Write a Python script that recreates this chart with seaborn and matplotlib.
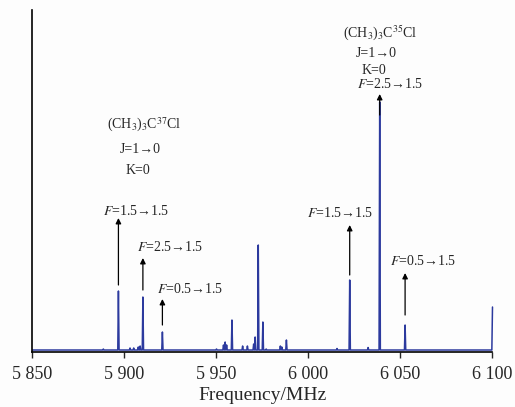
import numpy as np
import pandas as pd
import matplotlib
matplotlib.use("Agg")
import matplotlib.pyplot as plt
from matplotlib.ticker import FuncFormatter, MultipleLocator
import seaborn as sns

# peak positions (MHz) and intensities (arb. units)
peak_freq = [5888.5, 5896.7, 5903.0, 5905.0, 5907.5, 5908.5, 5910.0, 5920.6,
             5950.0, 5953.8, 5954.7, 5955.5, 5958.4, 5964.2, 5966.8, 5970.2,
             5971.0, 5972.7, 5975.2, 5977.0, 5984.7, 5985.5, 5988.0, 6015.5,
             6022.4, 6032.4, 6038.7, 6052.5, 6100.0]
peak_int = [1, 59, 2, 2, 3, 4, 53, 18,
            1, 5, 8, 5, 30, 4, 4, 6,
            13, 105, 28, 1, 4, 3, 10, 1.5,
            70, 2.5, 248, 25, 43]

# isotopologue headers
iso_labels = ["(CH$_3$)$_3$C$^{37}$Cl", "(CH$_3$)$_3$C$^{35}$Cl"]
j_label = "J=1\u21920"
k_label = "K=0"

# hyperfine assignments: peak frequency and label
hf_freq = [5896.7, 5910.0, 5920.6, 6022.4, 6038.7, 6052.5]
hf_labels = ["$F$=1.5\u21921.5", "$F$=2.5\u21921.5", "$F$=0.5\u21921.5",
             "$F$=1.5\u21921.5", "$F$=2.5\u21921.5", "$F$=0.5\u21921.5"]

xticks = [5850, 5900, 5950, 6000, 6050, 6100]

# build a stick-like trace from the peak list
half_w = 0.35
xs, ys = [5850.0], [0.0]
for f, h in zip(peak_freq, peak_int):
    if f >= 6100:
        xs += [f - half_w, f]
        ys += [0.0, h]
    else:
        xs += [f - half_w, f, f + half_w]
        ys += [0.0, h, 0.0]
df = pd.DataFrame({"freq": xs, "inten": ys})

sns.set_style("ticks")
plt.rcParams["font.family"] = ["Liberation Serif", "DejaVu Serif"]
plt.rcParams["mathtext.fontset"] = "stix"

fig = plt.figure(figsize=(5.15, 4.07), dpi=100)
fig.patch.set_facecolor("#fdfdfd")
ax = fig.add_axes([0.0631, 0.1351, 0.8932, 0.8403])
ax.set_facecolor("#fdfdfd")

sns.lineplot(data=df, x="freq", y="inten", ax=ax, color="#2c3a9e",
             linewidth=1.1, sort=False, estimator=None)
for ln in ax.lines:
    ln.set_clip_on(False)

ax.set_xlim(5850, 6100)
ax.set_ylim(-2, 340)
ax.set_xticks(xticks)
ax.xaxis.set_major_formatter(FuncFormatter(lambda v, p: f"{int(v):,}".replace(",", " ")))
ax.tick_params(axis="x", direction="out", length=4, width=1, labelsize=13, pad=6)
ax.set_yticks([])
ax.set_ylabel("")
ax.set_xlabel("Frequency/MHz", fontsize=14, labelpad=3)
for s in ["top", "right"]:
    ax.spines[s].set_visible(False)
for s in ["left", "bottom"]:
    ax.spines[s].set_linewidth(1.2)
    ax.spines[s].set_color("black")

# header text blocks (x centre in MHz, y in intensity units)
hdr_pos = [(5910.6, 225, 201, 180), (6039.1, 317, 297, 280)]
for lab, (xc, y1, y2, y3) in zip(iso_labels, hdr_pos):
    ax.text(xc, y1, lab, ha="center", va="center", fontsize=10)
    ax.text(xc - 2.2, y2, j_label, ha="center", va="center", fontsize=10)
    ax.text(xc - 3.5, y3, k_label, ha="center", va="center", fontsize=10)

# label left edge x, label y, arrow start y, arrow end y
hf_layout = [(5888.4, 139, 65, 132), (5906.9, 103, 60, 92), (5917.7, 61, 25, 51),
             (5999.3, 137, 75, 125), (6026.5, 266, 235, 256), (6044.5, 89, 35, 77)]
for f, lab, (lx, ly, a0, a1) in zip(hf_freq, hf_labels, hf_layout):
    ax.text(lx, ly, lab, ha="left", va="center", fontsize=10)
    ax.annotate("", xy=(f, a1), xytext=(f, a0),
                arrowprops=dict(arrowstyle="-|>", color="black", lw=0.9,
                                mutation_scale=8, shrinkA=0, shrinkB=0))

fig.savefig("out.png", dpi=100, facecolor=fig.get_facecolor())
